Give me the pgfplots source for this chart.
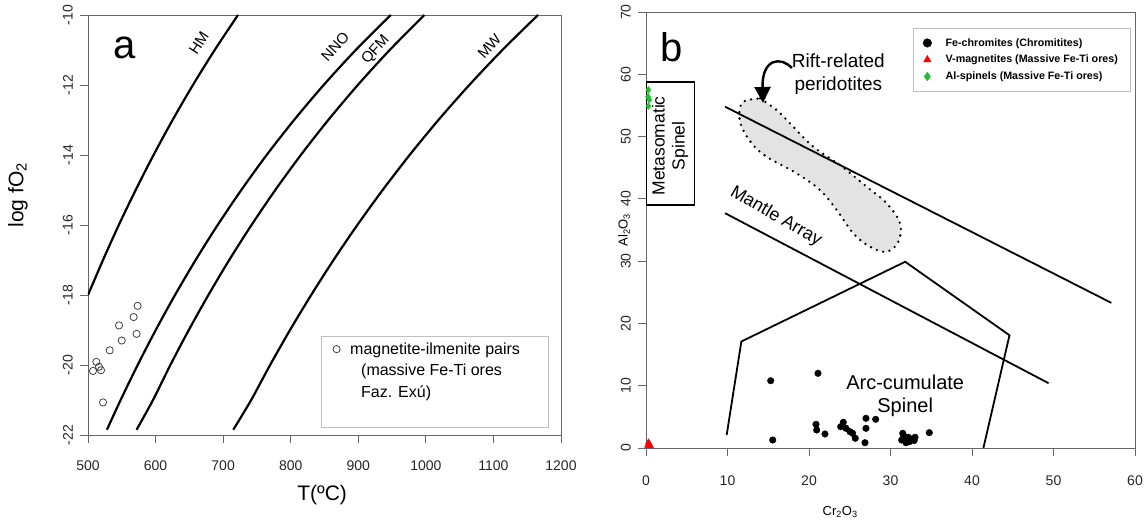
\documentclass[border=0pt]{standalone}
\usepackage{pgfplots}
\pgfplotsset{compat=1.18}
\usepackage{fontspec}
\setmainfont{Liberation Sans}
\usetikzlibrary{arrows.meta}
\definecolor{axgray}{HTML}{666666}
\definecolor{ptgreen}{HTML}{22C02A}
\begin{document}
\begin{tikzpicture}[x=1pt,y=1pt]
\path[use as bounding box] (0,0) rectangle (1146,522);
% ---------------- panel a ----------------
\begin{axis}[
  at={(88pt,87pt)}, anchor=south west, scale only axis,
  width=473pt, height=420pt,
  xmin=500, xmax=1200, ymin=-22, ymax=-10,
  xtick={500,600,...,1200}, ytick={-22,-20,...,-10},
  tick pos=left, tick align=outside, major tick length=8pt,
  axis line style={draw=axgray, line width=0.9pt},
  every tick/.style={draw=axgray, line width=0.9pt},
  /pgf/number format/assume math mode=true,
  /pgf/number format/1000 sep={},
  ticklabel style={font=\fontsize{14}{16}\selectfont, text=black!85},
  xticklabel style={yshift=-14pt},
  yticklabel style={rotate=90, anchor=south, inner sep=7pt},
  xlabel={T(ºC)},
  xlabel style={at={(axis description cs:0.495,-0.143)}, anchor=center, font=\fontsize{21}{24}\selectfont},
  ylabel={log fO\textsubscript{2}},
  ylabel style={at={(axis description cs:-0.148,0.571)}, anchor=center, font=\fontsize{21}{24}\selectfont},
  legend style={at={(axis description cs:0.973,0.017)}, anchor=south east, draw=black!25,
    font=\fontsize{16}{18}\selectfont, inner xsep=7pt, inner ysep=4pt, row sep=4.5pt, column sep=8pt,
    nodes={inner sep=2pt}},
  legend cell align=left,
]
% HM
\addplot[black, line width=2.2pt, smooth, forget plot] coordinates {
(500.0,-18)(522.2,-17)(545.6,-16)(570.6,-15)(597.0,-14)(625.2,-13)(655.3,-12)(687.5,-11)(722.0,-10)};
% NNO
\addplot[black, line width=2.2pt, smooth, forget plot] coordinates {
(528.0,-21.85)(548.3,-21)(573.5,-20)(600.3,-19)(628.8,-18)(659.3,-17)(691.9,-16)(726.9,-15)(764.4,-14)(805.0,-13)(848.8,-12)(896.3,-11)(948.1,-10)};
% QFM
\addplot[black, line width=2.2pt, smooth, forget plot] coordinates {
(571.9,-21.85)(596.2,-21)(621.9,-20)(649.2,-19)(678.2,-18)(709.0,-17)(742.0,-16)(777.2,-15)(815.0,-14)(855.6,-13)(899.3,-12)(946.5,-11)(997.8,-10)};
% MW
\addplot[black, line width=2.2pt, smooth, forget plot] coordinates {
(715.0,-21.85)(741.5,-21)(769.5,-20)(799.0,-19)(830.3,-18)(863.4,-17)(898.6,-16)(936.1,-15)(976.0,-14)(1018.6,-13)(1064.3,-12)(1113.3,-11)(1166.0,-10)};
% magnetite-ilmenite pairs
\addplot[only marks, mark=o, mark size=3.6pt, black!75, line width=0.8pt] coordinates {
(507.4,-20.17)(512.4,-19.91)(516.3,-20.05)(519.2,-20.15)(522.2,-21.07)(532.1,-19.58)
(545.9,-18.87)(549.9,-19.30)(567.5,-18.63)(571.9,-19.11)(573.4,-18.31)};
\addlegendentry{magnetite-ilmenite pairs\rule{19pt}{0pt}}
\addlegendimage{empty legend}
\addlegendentry{\hspace{11pt}(massive Fe-Ti ores}
\addlegendimage{empty legend}
\addlegendentry{\hspace{11pt}Faz. Exú)}
\addlegendimage{empty legend}
\addlegendentry{\strut}
\node[font=\fontsize{40}{44}\selectfont] at (axis cs:554,-10.95) {a};
\node[font=\fontsize{15}{17}\selectfont, rotate=57] at (axis cs:664,-10.8) {HM};
\node[font=\fontsize{15}{17}\selectfont, rotate=48] at (axis cs:866,-10.9) {NNO};
\node[font=\fontsize{15}{17}\selectfont, rotate=48] at (axis cs:926,-11.0) {QFM};
\node[font=\fontsize{15}{17}\selectfont, rotate=48] at (axis cs:1094,-10.9) {MW};
\end{axis}
% ---------------- panel b ----------------
\begin{axis}[
  at={(646pt,74pt)}, anchor=south west, scale only axis,
  width=489pt, height=436pt,
  xmin=0, xmax=60, ymin=0, ymax=70,
  xtick={0,10,...,60}, ytick={0,10,...,70},
  tick pos=left, tick align=outside, major tick length=8pt,
  axis line style={draw=axgray, line width=0.9pt},
  every tick/.style={draw=axgray, line width=0.9pt},
  /pgf/number format/assume math mode=true,
  ticklabel style={font=\fontsize{14}{16}\selectfont, text=black!85},
  xticklabel style={yshift=-16pt},
  yticklabel style={rotate=90, anchor=south, inner sep=7pt},
  xlabel={Cr\textsubscript{2}O\textsubscript{3}},
  xlabel style={at={(axis description cs:0.397,-0.147)}, anchor=center, font=\fontsize{13}{16}\selectfont},
  ylabel={Al\textsubscript{2}O\textsubscript{3}},
  ylabel style={at={(axis description cs:-0.045,0.50)}, anchor=center, font=\fontsize{13}{16}\selectfont},
  legend style={at={(axis description cs:0.99,0.963)}, anchor=north east, draw=black!25,
    font=\fontsize{10.7}{13}\selectfont\bfseries, inner xsep=10pt, inner ysep=8pt, row sep=3.5pt, column sep=12pt},
  legend cell align=left,
  legend image post style={mark size=4.3pt},
]
% rift-related field
\addplot[fill=gray!22, draw=black, line width=2.6pt, dash pattern=on 0pt off 6.5pt, line cap=round, smooth, tension=0.6, forget plot] coordinates {
(13.99,56.13)(16.04,54.25)(17.67,52.12)(20.53,48.36)(23.80,45.43)(27.08,41.94)(29.53,39.28)(31.17,36.07)
(30.96,33.11)(29.53,31.51)(27.48,32.31)(25.44,34.46)(23.40,38.20)(21.35,41.41)(18.49,44.09)(14.81,46.76)
(12.97,48.91)(11.74,51.57)(11.45,53.72)(11.94,55.59)(13.99,56.13)};
% lines
\addplot[black, line width=1.8pt, forget plot] coordinates {(9.7,54.8)(57.1,23.3)};
\addplot[black, line width=1.8pt, forget plot] coordinates {(9.7,37.7)(49.4,10.4)};
\addplot[black, line width=1.8pt, forget plot] coordinates {(9.9,2.1)(11.7,17.1)(31.8,29.9)(44.6,18.1)(41.4,0)};
% metasomatic box
\draw[black, line width=1.6pt] (axis cs:0,39.0) rectangle (axis cs:5.93,58.8);
% data
\addplot[only marks, mark=*, mark size=3.3pt, black] coordinates {
(15.30,10.80)(21.10,11.99)(15.55,1.28)(20.86,3.80)(20.94,2.89)(21.96,2.25)(24.21,4.13)(23.89,3.42)
(24.54,3.16)(25.03,2.62)(25.68,1.56)(25.35,2.36)(26.99,4.77)(26.99,3.16)(28.18,4.61)(26.87,0.85)
(31.50,2.36)(31.37,1.28)(31.78,1.56)(32.18,1.72)(32.60,1.44)(33.01,1.72)(31.90,0.85)(32.31,1.01)
(32.9,1.2)(31.6,2.0)(34.76,2.46)};
\addlegendentry{Fe-chromites (Chromitites)}
\addplot[only marks, mark=triangle*, mark size=3.6pt, red] coordinates {
(0.2,0.4)(0.4,0.7)(0.55,0.3)(0.3,0.9)};
\addlegendentry{V-magnetites (Massive Fe-Ti ores)}
\addplot[only marks, mark=diamond*, mark size=3.4pt, ptgreen] coordinates {
(0.30,57.5)(0.25,56.4)(0.40,55.9)(0.30,54.9)};
\addlegendentry{Al-spinels (Massive Fe-Ti ores)}
% annotations
\node[font=\fontsize{40}{44}\selectfont] at (axis cs:3.2,64.4) {b};
\node[font=\fontsize{17.5}{20}\selectfont, rotate=90, align=center] at (axis cs:2.96,48.5) {Metasomatic\\Spinel};
\node[font=\fontsize{18}{20}\selectfont, rotate=-30] at (axis cs:15.95,37.1) {Mantle Array};
\node[font=\fontsize{20}{23}\selectfont, align=center] at (axis cs:31.8,8.3) {Arc-cumulate\\Spinel};
\node[font=\fontsize{19}{23}\selectfont, align=center] at (axis cs:23.6,60.1) {Rift-related\\peridotites};
\draw[black, line width=2.4pt, -{Triangle[length=16pt,width=16pt]}]
  (axis cs:17.9,61.0) .. controls (axis cs:16.6,62.9) and (axis cs:14.2,62.6) .. (axis cs:14.36,55.4);
\end{axis}
\end{tikzpicture}
\end{document}
